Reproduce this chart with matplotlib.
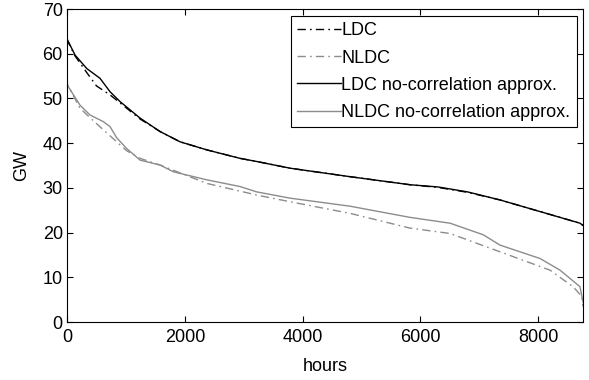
import matplotlib.pyplot as plt
import numpy as np

plt.rcParams['font.family'] = ['Liberation Sans', 'DejaVu Sans']

# readings (hours, GW)
ldc_h = [0, 23, 136, 334, 500, 730, 900, 1240, 1579, 1919, 2372, 2937, 3220,
         3786, 4805, 5823, 6300, 6800, 7351, 8031, 8709, 8760]
ldc_gw = [63.5, 62.5, 59.5, 55.8, 52.8, 50.8, 49.0, 45.4, 42.6, 40.3, 38.5, 36.6, 35.9,
          34.4, 32.5, 30.7, 30.1, 29.0, 27.3, 24.7, 22.1, 21.6]

ldc_apx_h = [0, 23, 136, 334, 560, 730, 900, 1240, 1579, 1919, 2372, 2937, 3220,
             3786, 4805, 5823, 6300, 6800, 7351, 8031, 8709, 8760]
ldc_apx_gw = [63.0, 62.7, 59.7, 56.7, 54.5, 51.5, 49.3, 45.6, 42.6, 40.3, 38.5, 36.6, 35.9,
              34.4, 32.5, 30.7, 30.2, 29.1, 27.3, 24.7, 22.1, 21.6]

nldc_h = [0, 10, 85, 220, 447, 674, 1013, 1240, 1580, 2372, 3220, 3786, 4805, 5823,
          6503, 7351, 8200, 8600, 8739, 8760]
nldc_gw = [54.5, 53.0, 51.2, 47.8, 45.0, 42.3, 38.3, 36.6, 35.1, 31.0, 28.4, 26.9, 24.3, 21.0,
           19.8, 15.7, 11.6, 7.8, 5.7, 3.5]

nldc_apx_h = [0, 23, 220, 390, 617, 730, 843, 1013, 1240, 1580, 1805, 2372, 2937, 3220,
              3786, 4805, 5823, 6503, 7068, 7351, 8031, 8370, 8709, 8760]
nldc_apx_gw = [53.0, 52.6, 48.5, 46.3, 44.8, 43.7, 41.2, 38.8, 36.2, 35.1, 33.6, 31.8, 30.3, 29.1,
               27.7, 25.9, 23.4, 22.1, 19.5, 17.2, 14.2, 11.6, 7.9, 4.5]

grey = '#8c8c8c'
dashdot = (0, (6, 3, 1.2, 3))

fig = plt.figure(figsize=(5.89, 3.80), dpi=100)
ax = fig.add_axes([0.1138, 0.1526, 0.876, 0.8237])

ax.plot(ldc_h, ldc_gw, color='black', linestyle=dashdot, lw=1, label='LDC')
ax.plot(nldc_h, nldc_gw, color=grey, linestyle=dashdot, lw=1, label='NLDC')
ax.plot(ldc_apx_h, ldc_apx_gw, color='black', lw=1, label='LDC no-correlation approx.')
ax.plot(nldc_apx_h, nldc_apx_gw, color=grey, lw=1, label='NLDC no-correlation approx.')

ax.set_xlim(0, 8760)
ax.set_ylim(0, 70)
ax.set_xticks(np.arange(0, 8001, 2000))
ax.set_yticks(np.arange(0, 71, 10))
ax.tick_params(direction='in', top=True, right=True, labelsize=13, length=4, width=0.8)
ax.tick_params(axis='x', pad=5)
ax.tick_params(axis='y', pad=3)
for s in ax.spines.values():
    s.set_linewidth(0.8)

ax.set_xlabel('hours', fontsize=13, labelpad=9)
ax.set_ylabel('GW', fontsize=13, labelpad=9)

leg = ax.legend(loc='upper right', bbox_to_anchor=(0.988, 0.978), borderaxespad=0,
                fontsize=13, handlelength=2.4, handletextpad=0.05, labelspacing=0.57,
                borderpad=0.35, fancybox=False, framealpha=1, edgecolor='black')
leg.get_frame().set_linewidth(0.8)

fig.savefig('out.png', dpi=100)
